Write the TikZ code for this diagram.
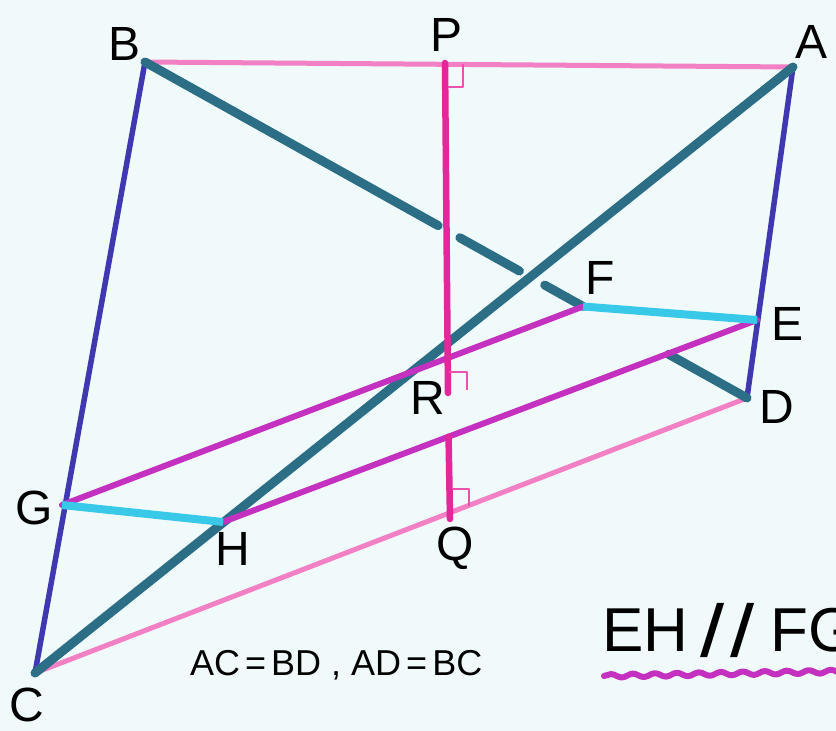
\documentclass[tikz,border=0pt]{standalone}
\usepackage{fontspec}
\setmainfont{Liberation Sans}
\newfontfamily\slashfont{DejaVu Sans}
\usepackage{xcolor}
\usetikzlibrary{calc, decorations.pathmorphing}

\definecolor{paper}{RGB}{241,250,250}
\definecolor{edgeblue}{RGB}{64,56,176}
\definecolor{diagteal}{RGB}{43,110,134}
\definecolor{rimpink}{RGB}{242,128,196}
\definecolor{heightpink}{RGB}{226,40,154}
\definecolor{secmag}{RGB}{196,48,192}
\definecolor{seccyan}{RGB}{56,200,232}

\begin{document}
\begin{tikzpicture}[x=1pt, y=-1pt, line cap=round, line join=round,
    lbl/.style={font=\fontsize{48}{56}\selectfont, inner sep=0pt},
    rim/.style={rimpink, line width=5pt},
    side/.style={edgeblue, line width=5.5pt},
    diag/.style={diagteal, line width=9pt},
    height/.style={heightpink, line width=6.5pt},
    sect/.style={secmag, line width=6pt},
    cut/.style={seccyan, line width=8pt, line cap=butt},
    rmark/.style={heightpink!80, line width=2pt, line cap=butt}]

    \fill[paper] (0,0) rectangle (836,731);
    \useasboundingbox (0,0) rectangle (836,731);
    \clip (0,0) rectangle (836,731);

    % corners
    \coordinate (A) at (793,67);
    \coordinate (B) at (145,62);
    \coordinate (C) at (35,673);
    \coordinate (D) at (747,398);
    % section points
    \coordinate (E) at (757,320);
    \coordinate (F) at ($(B)!0.7276!(D)$);
    \coordinate (G) at (62,505);
    \coordinate (H) at (223,522);
    % height line
    \coordinate (P) at (445,63);
    \coordinate (R) at (448,393);
    \coordinate (X) at ($(H)!0.4224!(E)$);
    \coordinate (Q) at (450,519);

    % outer edges
    \draw[rim] (B) -- (A);
    \draw[rim] (C) -- (D);
    \draw[side] (B) -- (C);
    \draw[side] (A) -- (D);

    % diagonals, BD broken where hidden
    \draw[diag] (A) -- (C);
    \draw[diag] (B) -- ($(B)!0.487!(D)$);
    \draw[diag] ($(B)!0.523!(D)$) -- ($(B)!0.622!(D)$);
    \draw[diag] ($(B)!0.664!(D)$) -- (F);
    \draw[diag] ($(B)!0.870!(D)$) -- (D);

    % section
    \draw[sect] (G) -- (F);
    \draw[sect] (H) -- (E);
    \draw[cut] (G) -- (H);
    \draw[cut] (F) -- (E);

    % height
    \draw[height] (P) -- (R);
    \draw[height] (X) -- (Q);
    \draw[rmark] ($(P)+(3,24)$) -| ($(P)+(18,1)$);
    \draw[rmark] ($(R)+(1,-21)$) -| ($(R)+(19,-3)$);
    \draw[rmark] ($(Q)+(2,-30)$) -| ($(Q)+(19,-13)$);

    % labels
    \node[lbl] (tA) at (812,42) {A};
    \node[lbl] (tB) at (125,44) {B};
    \node[lbl] (tC) at (27,705) {C};
    \node[lbl] (tD) at (777,407) {D};
    \node[lbl] (tE) at (788,324) {E};
    \node[lbl] (tF) at (600,278) {F};
    \node[lbl] (tG) at (34,508) {G};
    \node[lbl] (tH) at (233,549) {H};
    \node[lbl] (tP) at (447,35) {P};
    \node[lbl] (tQ) at (455,548) {Q};
    \node[lbl] (tR) at (428,398) {R};

    \node[font=\fontsize{36}{40}\selectfont, inner sep=0pt, anchor=west]
        (eqs) at (190,665) {AC\kern5pt=\kern5pt BD , AD\kern5pt=\kern5pt BC};
    \node[font=\fontsize{62}{70}\selectfont, inner sep=0pt, anchor=west]
        (par) at (602,630) {EH\kern12pt{\slashfont\bfseries\fontsize{66}{70}\selectfont /\kern6pt/}\kern16pt FG};

    \coordinate (u1) at (604,676);
    \coordinate (u2) at (860,671);
    \draw[sect, decorate, decoration={snake, amplitude=1.8pt, segment length=22pt}] (u1) -- (u2);
\end{tikzpicture}
\end{document}
